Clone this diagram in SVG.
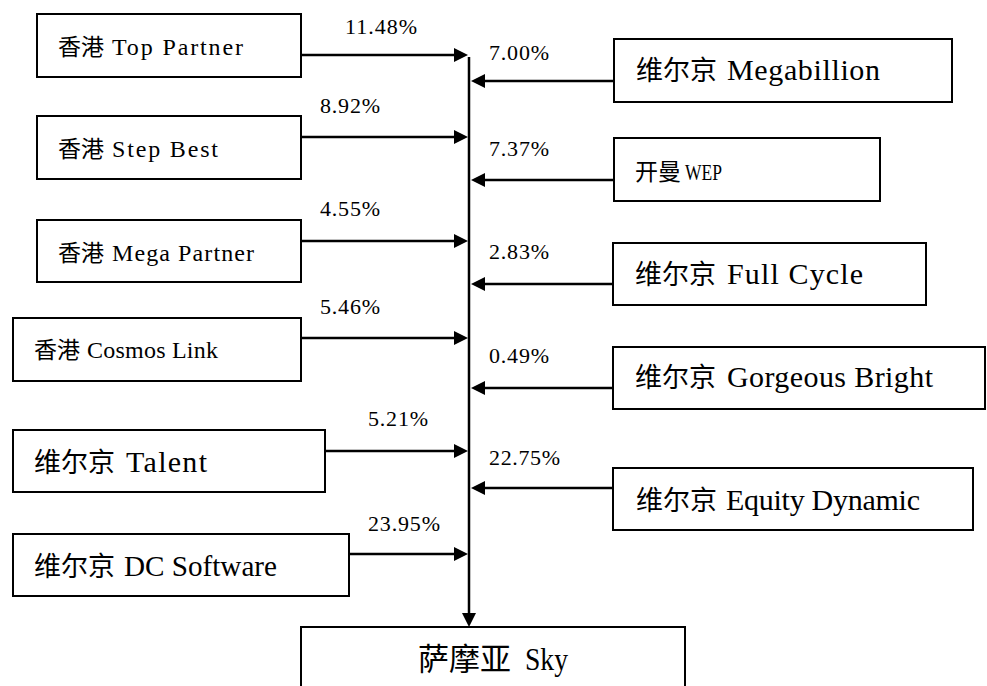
<svg xmlns="http://www.w3.org/2000/svg" width="987" height="686" viewBox="0 0 987 686">
<style>
  rect.box { fill: #ffffff; stroke: #000000; stroke-width: 2; }
  line.c { stroke: #000000; stroke-width: 2.5; marker-end: url(#arr); }
  text { font-family: "Liberation Serif", "Noto Sans CJK SC", serif; fill: #000000; }
  text.sm { font-size: 23px; }
  text.lg { font-size: 27px; }
  text.xl { font-size: 31px; }
  text.pct { font-size: 22px; }
  tspan.lat { font-family: "Liberation Serif", serif; }
  text.sm tspan.lat { font-size: 24px; }
  text.lg tspan.lat { font-size: 30px; }
  text.xl tspan.lat { font-size: 31px; }
</style>
<defs>
  <marker id="arr" markerUnits="userSpaceOnUse" markerWidth="14" markerHeight="14" refX="8" refY="7" orient="auto">
    <path d="M0,0 L14,7 L0,14 z" fill="#000000"/>
  </marker>
</defs>
<rect x="0" y="0" width="987" height="686" fill="#ffffff"/>

<g id="connectors">
  <line class="c" x1="469" y1="57" x2="469" y2="621"/>
  <line class="c" x1="301" y1="55" x2="462" y2="55"/>
  <line class="c" x1="301" y1="137" x2="462" y2="137"/>
  <line class="c" x1="301" y1="241" x2="462" y2="241"/>
  <line class="c" x1="301" y1="338" x2="462" y2="338"/>
  <line class="c" x1="325" y1="451" x2="462" y2="451"/>
  <line class="c" x1="349" y1="554" x2="462" y2="554"/>
  <line class="c" x1="614" y1="81" x2="477" y2="81"/>
  <line class="c" x1="614" y1="180" x2="477" y2="180"/>
  <line class="c" x1="613" y1="284" x2="477" y2="284"/>
  <line class="c" x1="613" y1="388" x2="477" y2="388"/>
  <line class="c" x1="613" y1="488" x2="477" y2="488"/>
  <text class="pct" x="345" y="34" textLength="72" lengthAdjust="spacing">11.48%</text>
  <text class="pct" x="320" y="113" textLength="60" lengthAdjust="spacing">8.92%</text>
  <text class="pct" x="320" y="216" textLength="60" lengthAdjust="spacing">4.55%</text>
  <text class="pct" x="320" y="314" textLength="60" lengthAdjust="spacing">5.46%</text>
  <text class="pct" x="368" y="426" textLength="60" lengthAdjust="spacing">5.21%</text>
  <text class="pct" x="368" y="531" textLength="72" lengthAdjust="spacing">23.95%</text>
  <text class="pct" x="489" y="60" textLength="60" lengthAdjust="spacing">7.00%</text>
  <text class="pct" x="489" y="156" textLength="60" lengthAdjust="spacing">7.37%</text>
  <text class="pct" x="489" y="259" textLength="60" lengthAdjust="spacing">2.83%</text>
  <text class="pct" x="489" y="363" textLength="60" lengthAdjust="spacing">0.49%</text>
  <text class="pct" x="489" y="465" textLength="71" lengthAdjust="spacing">22.75%</text>
</g>

<g id="hk-top-partner">
  <rect class="box" x="37" y="14" width="264" height="63"/>
  <text class="sm" x="58" y="55">香港 <tspan class="lat" x="112" textLength="131" lengthAdjust="spacing">Top Partner</tspan></text>
</g>
<g id="hk-step-best">
  <rect class="box" x="37" y="116" width="264" height="63"/>
  <text class="sm" x="58" y="157">香港 <tspan class="lat" x="112" textLength="106" lengthAdjust="spacing">Step Best</tspan></text>
</g>
<g id="hk-mega-partner">
  <rect class="box" x="37" y="220" width="264" height="62"/>
  <text class="sm" x="58" y="261">香港 <tspan class="lat" x="112" textLength="142" lengthAdjust="spacing">Mega Partner</tspan></text>
</g>
<g id="hk-cosmos-link">
  <rect class="box" x="13" y="318" width="288" height="63"/>
  <text class="sm" x="34" y="358">香港 <tspan class="lat" x="87" textLength="131" lengthAdjust="spacing">Cosmos Link</tspan></text>
</g>
<g id="bvi-talent">
  <rect class="box" x="13" y="430" width="312" height="62"/>
  <text class="lg" x="34" y="472">维尔京 <tspan class="lat" x="126" textLength="81" lengthAdjust="spacing">Talent</tspan></text>
</g>
<g id="bvi-dc-software">
  <rect class="box" x="13" y="534" width="336" height="62"/>
  <text class="lg" x="34" y="576">维尔京 <tspan class="lat" x="124" textLength="153" lengthAdjust="spacingAndGlyphs">DC Software</tspan></text>
</g>
<g id="bvi-megabillion">
  <rect class="box" x="614" y="39" width="338" height="63"/>
  <text class="lg" x="636" y="80">维尔京 <tspan class="lat" x="727" textLength="153" lengthAdjust="spacing">Megabillion</tspan></text>
</g>
<g id="cayman-wep">
  <rect class="box" x="614" y="138" width="266" height="63"/>
  <text class="sm" x="635" y="180">开曼 <tspan class="lat" x="685" textLength="37" lengthAdjust="spacingAndGlyphs">WEP</tspan></text>
</g>
<g id="bvi-full-cycle">
  <rect class="box" x="613" y="243" width="313" height="62"/>
  <text class="lg" x="635" y="284">维尔京 <tspan class="lat" x="727" textLength="136" lengthAdjust="spacing">Full Cycle</tspan></text>
</g>
<g id="bvi-gorgeous-bright">
  <rect class="box" x="613" y="347" width="372" height="62"/>
  <text class="lg" x="635" y="387">维尔京 <tspan class="lat" x="727" textLength="206" lengthAdjust="spacing">Gorgeous Bright</tspan></text>
</g>
<g id="bvi-equity-dynamic">
  <rect class="box" x="613" y="468" width="360" height="62"/>
  <text class="lg" x="636" y="510">维尔京 <tspan class="lat" x="726" textLength="194" lengthAdjust="spacing">Equity Dynamic</tspan></text>
</g>
<g id="samoa-sky">
  <rect class="box" x="301" y="627" width="384" height="90"/>
  <text class="xl" x="418" y="670">萨摩亚 <tspan class="lat" x="525" textLength="43" lengthAdjust="spacingAndGlyphs">Sky</tspan></text>
</g>
</svg>
